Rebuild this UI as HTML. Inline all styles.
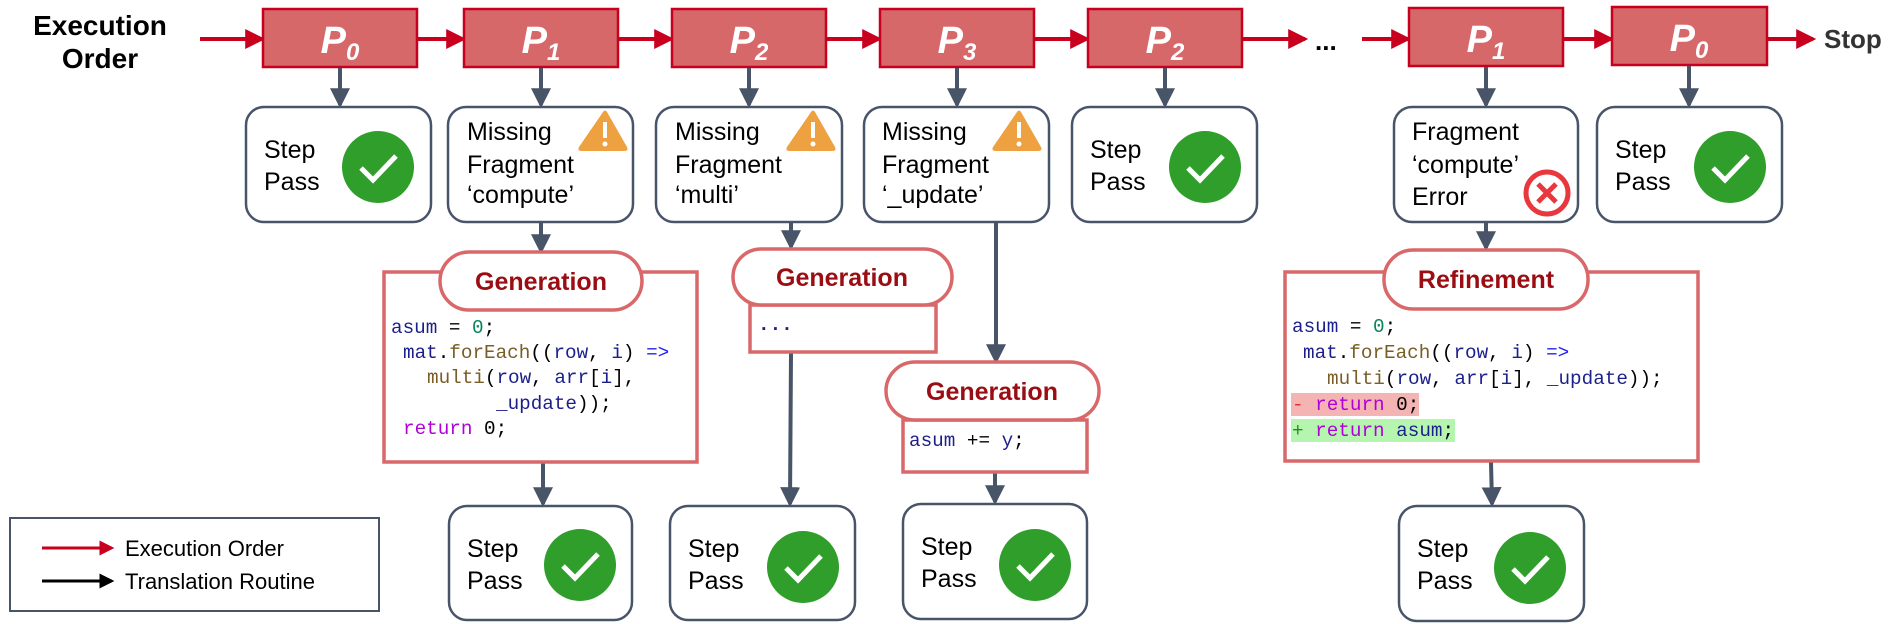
<!DOCTYPE html>
<html><head><meta charset="utf-8"><style>
html,body{margin:0;padding:0;background:#fff;}
svg{display:block;}
.t{font-family:"Liberation Sans",Arial,sans-serif;font-size:25px;fill:#000;}
.c{font-family:"Liberation Mono","DejaVu Sans Mono",monospace;font-size:19.3px;}
.p{font-family:"Liberation Sans",Arial,sans-serif;font-weight:bold;font-style:italic;fill:#fff;font-size:38px;}
.s{font-size:24px;}
.g{font-family:"Liberation Sans",Arial,sans-serif;font-weight:bold;font-size:25px;fill:#9a0d12;}
.n{fill:#1b1f8a}.gr{fill:#098658}.br{fill:#795e26}.bl{fill:#2222ee}.pu{fill:#b000d8}.k{fill:#000}
</style></head><body>
<svg width="1889" height="624" viewBox="0 0 1889 624" xmlns="http://www.w3.org/2000/svg">
<defs>
<marker id="ar" markerWidth="5" markerHeight="5" refX="4.2" refY="2.5" orient="auto" markerUnits="strokeWidth"><path d="M0,0 L5,2.5 L0,5 z" fill="#c8001e"/></marker>
<marker id="ag" markerWidth="5" markerHeight="5" refX="4.2" refY="2.5" orient="auto" markerUnits="strokeWidth"><path d="M0,0 L5,2.5 L0,5 z" fill="#485468"/></marker>
<marker id="ak" markerWidth="5" markerHeight="5" refX="4.2" refY="2.5" orient="auto" markerUnits="strokeWidth"><path d="M0,0 L5,2.5 L0,5 z" fill="#000"/></marker>
<g id="chk"><circle r="36" fill="#2f9e2b"/><path d="M-17,1 L-5,13 L18,-11" stroke="#fff" stroke-width="5" fill="none"/></g>
<g id="warn"><path d="M24,2 Q26,-1 28,2 L48,37 Q50,41 45,41 L3,41 Q-2,41 0,37 Z" fill="#eea140"/><rect x="24" y="12" width="4" height="16" fill="#fff"/><circle cx="26" cy="34" r="2.5" fill="#fff"/></g>
</defs>

<text x="100" y="35" text-anchor="middle" style="font-family:'Liberation Sans',Arial,sans-serif;font-weight:bold;font-size:28px">Execution</text>
<text x="100" y="68" text-anchor="middle" style="font-family:'Liberation Sans',Arial,sans-serif;font-weight:bold;font-size:28px">Order</text>

<g stroke="#c8001e" stroke-width="4" fill="none" marker-end="url(#ar)">
<line x1="200" y1="39" x2="262" y2="39"/>
<line x1="418" y1="39" x2="463" y2="39"/>
<line x1="619" y1="39" x2="671" y2="39"/>
<line x1="827" y1="39" x2="879" y2="39"/>
<line x1="1035" y1="39" x2="1087" y2="39"/>
<line x1="1243" y1="39" x2="1305" y2="39"/>
<line x1="1362" y1="39" x2="1408" y2="39"/>
<line x1="1564" y1="39" x2="1611" y2="39"/>
<line x1="1768" y1="39" x2="1813" y2="39"/>
</g>
<text x="1315" y="50" style="font-family:'Liberation Sans',Arial,sans-serif;font-weight:bold;font-size:26px">...</text>
<text x="1824" y="48" style="font-family:'Liberation Sans',Arial,sans-serif;font-weight:bold;font-size:26px;fill:#333">Stop</text>

<g fill="#d6686a" stroke="#c8001e" stroke-width="2.5">
<rect x="263" y="9" width="154" height="58"/>
<rect x="464" y="9" width="154" height="58"/>
<rect x="672" y="9" width="154" height="58"/>
<rect x="880" y="9" width="154" height="58"/>
<rect x="1088" y="9" width="154" height="58"/>
<rect x="1409" y="8" width="154" height="58"/>
<rect x="1612" y="7" width="155" height="58"/>
</g>
<g class="p" text-anchor="middle">
<text x="340" y="53">P<tspan class="s" dy="7">0</tspan></text>
<text x="541" y="53">P<tspan class="s" dy="7">1</tspan></text>
<text x="749" y="53">P<tspan class="s" dy="7">2</tspan></text>
<text x="957" y="53">P<tspan class="s" dy="7">3</tspan></text>
<text x="1165" y="53">P<tspan class="s" dy="7">2</tspan></text>
<text x="1486" y="52">P<tspan class="s" dy="7">1</tspan></text>
<text x="1689" y="51">P<tspan class="s" dy="7">0</tspan></text>
</g>

<g stroke="#485468" stroke-width="4" fill="none" marker-end="url(#ag)">
<line x1="340" y1="68" x2="340" y2="105"/>
<line x1="541" y1="68" x2="541" y2="105"/>
<line x1="749" y1="68" x2="749" y2="105"/>
<line x1="957" y1="68" x2="957" y2="105"/>
<line x1="1165" y1="68" x2="1165" y2="105"/>
<line x1="1486" y1="67" x2="1486" y2="105"/>
<line x1="1689" y1="66" x2="1689" y2="105"/>
<line x1="541" y1="223" x2="541" y2="251"/>
<line x1="791" y1="223" x2="791" y2="247"/>
<line x1="1486" y1="223" x2="1486" y2="248"/>
<line x1="996" y1="223" x2="996" y2="361"/>
<line x1="543" y1="463" x2="543" y2="504"/>
<line x1="791" y1="353" x2="790" y2="504"/>
<line x1="995" y1="473" x2="995" y2="502"/>
<line x1="1491" y1="462" x2="1492" y2="504"/>
</g>

<g fill="#fff" stroke="#485468" stroke-width="2.5">
<rect x="246" y="107" width="185" height="115" rx="18"/>
<rect x="448" y="107" width="185" height="115" rx="18"/>
<rect x="656" y="107" width="186" height="115" rx="18"/>
<rect x="864" y="107" width="185" height="115" rx="18"/>
<rect x="1072" y="107" width="185" height="115" rx="18"/>
<rect x="1394" y="107" width="184" height="115" rx="18"/>
<rect x="1597" y="107" width="185" height="115" rx="18"/>
<rect x="449" y="506" width="183" height="114" rx="18"/>
<rect x="670" y="506" width="185" height="114" rx="18"/>
<rect x="903" y="504" width="184" height="115" rx="18"/>
<rect x="1399" y="506" width="185" height="115" rx="18"/>
</g>

<g class="t">
<text x="264" y="158">Step</text><text x="264" y="190">Pass</text>
<text x="1090" y="158">Step</text><text x="1090" y="190">Pass</text>
<text x="1615" y="158">Step</text><text x="1615" y="190">Pass</text>
<text x="467" y="557">Step</text><text x="467" y="589">Pass</text>
<text x="688" y="557">Step</text><text x="688" y="589">Pass</text>
<text x="921" y="555">Step</text><text x="921" y="587">Pass</text>
<text x="1417" y="557">Step</text><text x="1417" y="589">Pass</text>
</g>
<use href="#chk" x="378" y="167"/>
<use href="#chk" x="1205" y="167"/>
<use href="#chk" x="1730" y="167"/>
<use href="#chk" x="580" y="565"/>
<use href="#chk" x="803" y="567"/>
<use href="#chk" x="1035" y="565"/>
<use href="#chk" x="1530" y="568"/>

<g class="t">
<text x="467" y="140">Missing</text><text x="467" y="173">Fragment</text><text x="467" y="203">‘compute’</text>
<text x="675" y="140">Missing</text><text x="675" y="173">Fragment</text><text x="675" y="203">‘multi’</text>
<text x="882" y="140">Missing</text><text x="882" y="173">Fragment</text><text x="882" y="203">‘_update’</text>
<text x="1412" y="140">Fragment</text><text x="1412" y="173">‘compute’</text><text x="1412" y="205">Error</text>
</g>
<use href="#warn" x="579" y="110"/>
<use href="#warn" x="787" y="110"/>
<use href="#warn" x="993" y="110"/>
<g transform="translate(1547,193)"><circle r="21" fill="#fff" stroke="#e8383d" stroke-width="5"/><path d="M-9,-9 L9,9 M9,-9 L-9,9" stroke="#e8383d" stroke-width="5"/></g>

<rect x="384" y="272" width="313" height="190" fill="#fff" stroke="#d9686a" stroke-width="3.5"/>
<rect x="440" y="252" width="202" height="58" rx="29" fill="#fff" stroke="#d9686a" stroke-width="3.5"/>
<text class="g" x="541" y="290" text-anchor="middle">Generation</text>
<g class="c" xml:space="preserve">
<text x="391" y="333"><tspan class="n">asum</tspan><tspan class="k"> = </tspan><tspan class="gr">0</tspan><tspan class="k">;</tspan></text>
<text x="403" y="358"><tspan class="n">mat</tspan><tspan class="k">.</tspan><tspan class="br">forEach</tspan><tspan class="k">((</tspan><tspan class="n">row</tspan><tspan class="k">, </tspan><tspan class="n">i</tspan><tspan class="k">) </tspan><tspan class="bl">=&gt;</tspan></text>
<text x="427" y="383"><tspan class="br">multi</tspan><tspan class="k">(</tspan><tspan class="n">row</tspan><tspan class="k">, </tspan><tspan class="n">arr</tspan><tspan class="k">[</tspan><tspan class="n">i</tspan><tspan class="k">],</tspan></text>
<text x="496" y="409"><tspan class="n">_update</tspan><tspan class="k">));</tspan></text>
<text x="403" y="434"><tspan class="pu">return</tspan><tspan class="k"> 0;</tspan></text>
</g>

<rect x="750" y="305" width="186" height="47" fill="#fff" stroke="#d9686a" stroke-width="3.5"/>
<rect x="733" y="249" width="219" height="56" rx="28" fill="#fff" stroke="#d9686a" stroke-width="3.5"/>
<text class="g" x="842" y="286" text-anchor="middle">Generation</text>
<text class="c n" x="758" y="330" style="font-weight:bold">...</text>

<rect x="903" y="420" width="184" height="52" fill="#fff" stroke="#d9686a" stroke-width="3.5"/>
<rect x="886" y="362" width="213" height="58" rx="29" fill="#fff" stroke="#d9686a" stroke-width="3.5"/>
<text class="g" x="992" y="400" text-anchor="middle">Generation</text>
<text class="c" x="909" y="446" xml:space="preserve"><tspan class="n">asum</tspan><tspan class="k"> += </tspan><tspan class="n">y</tspan><tspan class="k">;</tspan></text>

<rect x="1285" y="272" width="413" height="189" fill="#fff" stroke="#d9686a" stroke-width="3.5"/>
<rect x="1384" y="250" width="204" height="59" rx="29" fill="#fff" stroke="#d9686a" stroke-width="3.5"/>
<text class="g" x="1486" y="288" text-anchor="middle">Refinement</text>
<rect x="1291" y="393" width="128" height="23" fill="#f5b4b4"/>
<rect x="1291" y="419" width="164" height="23" fill="#b6f5b0"/>
<g class="c" xml:space="preserve">
<text x="1292" y="332"><tspan class="n">asum</tspan><tspan class="k"> = </tspan><tspan class="gr">0</tspan><tspan class="k">;</tspan></text>
<text x="1303" y="358"><tspan class="n">mat</tspan><tspan class="k">.</tspan><tspan class="br">forEach</tspan><tspan class="k">((</tspan><tspan class="n">row</tspan><tspan class="k">, </tspan><tspan class="n">i</tspan><tspan class="k">) </tspan><tspan class="bl">=&gt;</tspan></text>
<text x="1327" y="384"><tspan class="br">multi</tspan><tspan class="k">(</tspan><tspan class="n">row</tspan><tspan class="k">, </tspan><tspan class="n">arr</tspan><tspan class="k">[</tspan><tspan class="n">i</tspan><tspan class="k">], </tspan><tspan class="n">_update</tspan><tspan class="k">));</tspan></text>
<text x="1292" y="410"><tspan fill="#e03030">- </tspan><tspan class="pu">return</tspan><tspan class="k"> 0;</tspan></text>
<text x="1292" y="436"><tspan fill="#209020">+ </tspan><tspan class="pu">return</tspan><tspan class="k"> </tspan><tspan class="n">asum</tspan><tspan class="k">;</tspan></text>
</g>

<rect x="10" y="518" width="369" height="93" fill="#fff" stroke="#485468" stroke-width="2"/>
<line x1="42" y1="548" x2="112" y2="548" stroke="#c8001e" stroke-width="3" marker-end="url(#ar)"/>
<line x1="42" y1="581" x2="112" y2="581" stroke="#000" stroke-width="3" marker-end="url(#ak)"/>
<text x="125" y="556" style="font-family:'Liberation Sans',Arial,sans-serif;font-size:22px">Execution Order</text>
<text x="125" y="589" style="font-family:'Liberation Sans',Arial,sans-serif;font-size:22px">Translation Routine</text>
</svg>
</body></html>
